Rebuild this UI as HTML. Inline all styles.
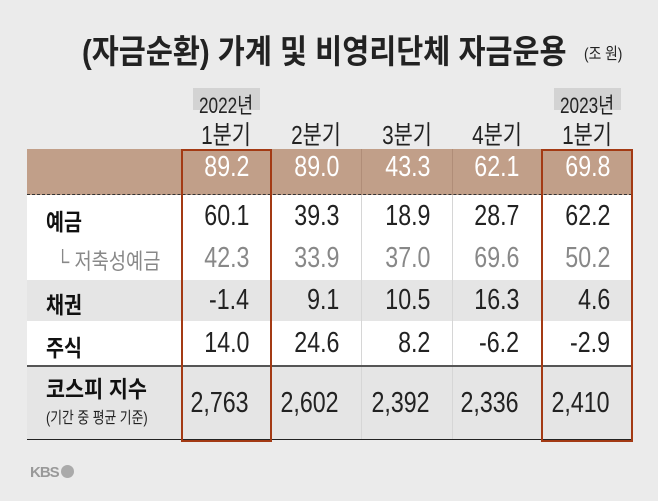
<!DOCTYPE html>
<html><head><meta charset="utf-8">
<style>
body{margin:0;width:658px;height:501px;background:#ebebeb;overflow:hidden;font-family:"Liberation Sans","Noto Sans CJK KR",sans-serif;position:relative}
.a{position:absolute}
.t{position:absolute;white-space:nowrap;transform-origin:left top}
</style></head><body>
<div class="t" style="left:82px;top:25px;font-size:33px;font-weight:bold;color:#222;transform:scaleX(0.89)">(자금순환) 가계 및 비영리단체 자금운용</div>
<div class="t" style="left:584px;top:40px;font-size:16px;color:#222;transform:scaleX(0.86)">(조 원)</div>
<div id="tbl" class="a" style="left:0;top:0;width:658px;height:501px"></div>
<div class="t" style="left:30px;top:464px;font-size:15px;font-weight:bold;color:#999;letter-spacing:-1px">KBS<span style="display:inline-block;width:13px;height:13px;border-radius:50%;background:#aaa;margin-left:2px;vertical-align:-1px"></span></div>
<script>
const quarters=["1분기","2분기","3분기","4분기","1분기"];
const years=["2022년","","","","2023년"];
const totals=["89.2","89.0","43.3","62.1","69.8"];
const deposits=["60.1","39.3","18.9","28.7","62.2"];
const savings=["42.3","33.9","37.0","69.6","50.2"];
const bonds=["-1.4","9.1","10.5","16.3","4.6"];
const stocks=["14.0","24.6","8.2","-6.2","-2.9"];
const kospi=["2,763","2,602","2,392","2,336","2,410"];
const T=document.getElementById('tbl');
const colL=[181,271,361,452,541],colR=[271,361,452,541,632];
function box(x,y,w,h,bg,name){const d=document.createElement('div');d.className='a';d.style.cssText=`left:${x}px;top:${y}px;width:${w}px;height:${h}px;background:${bg}`;


T.appendChild(d);return d;}
function txt(s,x,y,size,color,weight,name,mode,sx){const d=document.createElement('div');d.className='t';d.textContent=s;d.style.cssText=`top:${y}px;font-size:${size}px;color:${color};font-weight:${weight};`;
sx=sx||0.82;
if(mode==='r'){d.style.right=(658-x)+'px';d.style.transformOrigin='right top';d.style.transform=`scaleX(${sx})`;}
else if(mode==='c'){d.style.left=x+'px';d.style.transform=`translateX(-50%) scaleX(${sx})`;d.style.transformOrigin='center top';}
else {d.style.left=x+'px';d.style.transform=`scaleX(${sx})`;}


T.appendChild(d);return d;}
box(27,149,605,46,'#c19f89','total-row');
box(27,195,605,85,'#ffffff','deposit-rows');
box(27,280,605,41,'#e5e5e5','bond-row');
box(27,321,605,45,'#ffffff','stock-row');
box(27,366,605,74,'#e5e5e5','kospi-row');
for(let i=1;i<5;i++){box(colL[i],195,1,245,'#d6d6d6','column-divider');box(colL[i],149,1,46,'#b08d78','column-divider');}
const dl=box(27,194,605,0,'transparent','dotted-line');dl.style.borderTop='1px dashed #333';
box(27,365,605,2,'#555','divider-line');
box(27,439,605,1,'#222','bottom-line');
for(let i=0;i<5;i++){const cx=(colL[i]+colR[i])/2;
if(years[i]){box(cx-33,88,67,22,'#d3d3d3','year-badge');txt(years[i],cx,88,22,'#222','normal','year-label','c',0.78);}
txt(quarters[i],cx,115,26,'#222','normal','quarter-label','c',0.8);}
const rows=[[totals,151,'#fff','total-value'],[deposits,200,'#222','deposit-value'],[savings,242,'#888','savings-value'],[bonds,284,'#222','bond-value'],[stocks,327,'#222','stock-value'],[kospi,387,'#222','kospi-value']];
rows.forEach(r=>{r[0].forEach((v,i)=>txt(v,colR[i]-22,r[1],29,r[2],'normal',r[3],'r',0.8));});
txt('예금',46,203,23,'#111','bold','deposit-label','l',0.85);
txt('└ 저축성예금',56,244,22,'#888','normal','savings-label','l',0.85);
txt('채권',46,286,23,'#111','bold','bond-label','l',0.85);
txt('주식',46,329,23,'#111','bold','stock-label','l',0.85);
txt('코스피 지수',46,370,23,'#111','bold','kospi-label','l',0.9);
txt('(기간 중 평균 기준)',46,404,16,'#222','normal','kospi-note','l',0.8);
[0,4].forEach(i=>{const b=box(colL[i],149,colR[i]-colL[i]-3,289,'transparent','highlight-box');b.style.border='2px solid #a33a14';});
</script>
</body></html>
